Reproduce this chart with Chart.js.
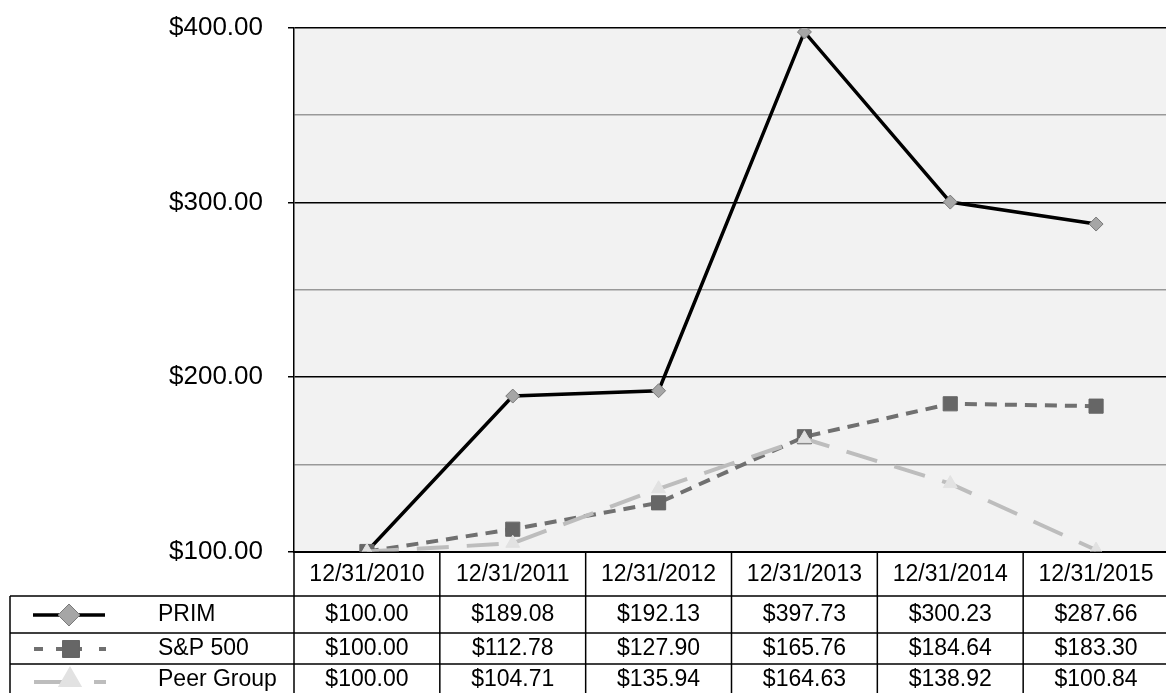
<!DOCTYPE html>
<html>
<head>
<meta charset="utf-8">
<script src="https://cdn.jsdelivr.net/npm/chart.js@4.4.1/dist/chart.umd.min.js"></script>
<style>
  html, body { margin: 0; padding: 0; background: #fff; overflow: hidden; }
  #grafico { display: block; }
</style>
</head>
<body>
<canvas id="grafico" width="1180" height="693"></canvas>
<script>
const datas = ["12/31/2010", "12/31/2011", "12/31/2012", "12/31/2013", "12/31/2014", "12/31/2015"];
const nomesSeries = ["PRIM", "S&P 500", "Peer Group"];
const valoresPrim = [100.0, 189.08, 192.13, 397.73, 300.23, 287.66];
const valoresSp500 = [100.0, 112.78, 127.9, 165.76, 184.64, 183.3];
const valoresPeer = [100.0, 104.71, 135.94, 164.63, 138.92, 100.84];
const eixoMin = 100;
const eixoMax = 400;
const eixoPasso = 50;

const fonte = "'Liberation Sans', Arial, Helvetica, sans-serif";
const dinheiro = (v) => "$" + v.toFixed(2);

// fundo cinza da area do grafico
const fundoPlugin = {
  id: "fundo",
  beforeDraw(chart) {
    const { ctx, chartArea: a } = chart;
    ctx.save();
    ctx.fillStyle = "#f2f2f2";
    ctx.fillRect(a.left, a.top, a.right - a.left, a.bottom - a.top);
    ctx.restore();
  },
};

// tabela de dados abaixo do grafico
const tabelaPlugin = {
  id: "tabela",
  afterDraw(chart) {
    const { ctx, chartArea: a } = chart;
    const xs = chart.scales.x;
    const colW = (a.right - a.left) / datas.length;
    const linhas = [596, 633, 664]; // topo de cada linha
    const centros = [615, 649, 680];
    const altura = chart.height;

    ctx.save();
    ctx.strokeStyle = "#000";
    ctx.lineWidth = 1.5;
    ctx.beginPath();
    for (let i = 0; i <= datas.length; i++) {
      const x = a.left + i * colW;
      ctx.moveTo(x, a.bottom);
      ctx.lineTo(x, altura);
    }
    linhas.forEach((y) => {
      ctx.moveTo(10, y);
      ctx.lineTo(a.right, y);
    });
    ctx.moveTo(10, linhas[0]);
    ctx.lineTo(10, altura);
    ctx.stroke();

    // valores
    const series = [valoresPrim, valoresSp500, valoresPeer];
    ctx.fillStyle = "#000";
    ctx.font = "23px " + fonte;
    ctx.textBaseline = "middle";
    series.forEach((vals, r) => {
      ctx.textAlign = "left";
      ctx.fillText(nomesSeries[r], 158, centros[r]);
      ctx.textAlign = "center";
      vals.forEach((v, i) => {
        ctx.fillText(dinheiro(v), xs.getPixelForValue(i), centros[r]);
      });
    });

    // marcadores da legenda
    const ds = chart.data.datasets;
    const seg = (x1, x2, y) => {
      ctx.moveTo(x1, y);
      ctx.lineTo(x2, y);
    };
    ctx.lineCap = "butt";

    // PRIM
    ctx.strokeStyle = ds[0].borderColor;
    ctx.lineWidth = 3.5;
    ctx.beginPath();
    seg(33, 105, centros[0]);
    ctx.stroke();
    ctx.fillStyle = ds[0].pointBackgroundColor;
    ctx.strokeStyle = ds[0].pointBorderColor;
    ctx.lineWidth = 1;
    Chart.helpers.drawPoint(ctx, { pointStyle: "rectRot", radius: 11, rotation: 0, borderWidth: 1 }, 69, centros[0]);

    // S&P 500
    ctx.strokeStyle = ds[1].borderColor;
    ctx.lineWidth = 4;
    ctx.beginPath();
    seg(34, 43, centros[1]);
    seg(56, 82, centros[1]);
    seg(99, 106, centros[1]);
    ctx.stroke();
    ctx.fillStyle = ds[1].pointBackgroundColor;
    ctx.strokeStyle = ds[1].pointBorderColor;
    ctx.lineWidth = 1;
    Chart.helpers.drawPoint(ctx, { pointStyle: "rect", radius: 12, rotation: 0, borderWidth: 1 }, 71, centros[1]);

    // Peer Group
    ctx.strokeStyle = ds[2].borderColor;
    ctx.lineWidth = 4;
    ctx.beginPath();
    seg(34, 65, centros[2] + 2);
    seg(94, 106, centros[2] + 2);
    ctx.stroke();
    ctx.fillStyle = ds[2].pointBackgroundColor;
    ctx.strokeStyle = ds[2].pointBorderColor;
    Chart.helpers.drawPoint(ctx, { pointStyle: "triangle", radius: 10, rotation: 0, borderWidth: 1 }, 70, centros[2]);
    ctx.restore();
  },
};

const ctx = document.getElementById("grafico").getContext("2d");

new Chart(ctx, {
  type: "line",
  data: {
    labels: datas,
    datasets: [
      {
        label: nomesSeries[0],
        data: valoresPrim,
        borderColor: "#000000",
        borderWidth: 3.5,
        pointStyle: "rectRot",
        pointRadius: 7,
        pointBackgroundColor: "#a6a6a6",
        pointBorderColor: "#7a7a7a",
        pointBorderWidth: 1,
        tension: 0,
        order: 3,
      },
      {
        label: nomesSeries[1],
        data: valoresSp500,
        borderColor: "#707070",
        borderWidth: 4,
        borderDash: [12, 8],
        pointStyle: "rect",
        pointRadius: 10,
        pointBackgroundColor: "#666666",
        pointBorderColor: "#666666",
        pointBorderWidth: 1,
        tension: 0,
        order: 2,
      },
      {
        label: nomesSeries[2],
        data: valoresPeer,
        borderColor: "#bdbdbd",
        borderWidth: 4,
        borderDash: [32, 18],
        pointStyle: "triangle",
        pointRadius: 8,
        pointBackgroundColor: "#e2e2e2",
        pointBorderColor: "#e2e2e2",
        pointBorderWidth: 1,
        tension: 0,
        order: 1,
      },
    ],
  },
  options: {
    responsive: false,
    animation: false,
    layout: {
      padding: { top: 28, left: 0, right: 4, bottom: 0 },
    },
    plugins: {
      legend: { display: false },
      tooltip: { enabled: false },
    },
    scales: {
      x: {
        offset: true,
        grid: { display: false, drawTicks: false },
        border: { display: true, color: "#000", width: 2 },
        ticks: {
          color: "#000",
          padding: 9,
          maxRotation: 0,
          font: { family: fonte, size: 23 },
        },
        afterFit(scale) {
          scale.height = 693 - 551.5;
        },
      },
      y: {
        min: eixoMin,
        max: eixoMax,
        ticks: {
          stepSize: eixoPasso,
          color: "#000",
          padding: 25,
          font: { family: fonte, size: 26 },
          callback: (v) => (v % 100 === 0 ? dinheiro(v) : ""),
        },
        grid: {
          color: (c) => (c.tick && c.tick.value % 100 === 0 ? "#000" : "#999"),
          tickColor: (c) => (c.tick && c.tick.value % 100 === 0 ? "#000" : "rgba(0,0,0,0)"),
          lineWidth: 1.5,
          tickLength: 6,
        },
        border: { display: true, color: "#000", width: 1.5 },
        afterFit(scale) {
          scale.width = 294;
          scale.paddingTop = 0;
          scale.paddingBottom = 0;
        },
      },
    },
  },
  plugins: [fundoPlugin, tabelaPlugin],
});
</script>
</body>
</html>
